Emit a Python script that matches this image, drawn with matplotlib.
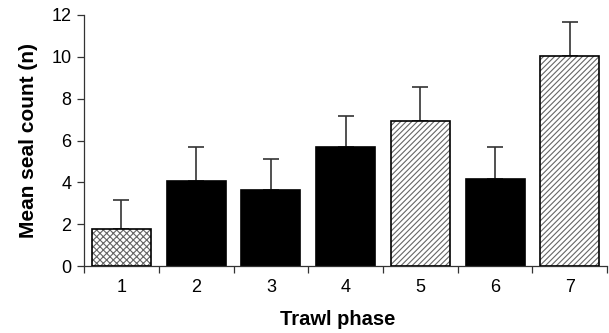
import numpy as np
import matplotlib.pyplot as plt

plt.rcParams['font.family'] = ['Liberation Sans', 'DejaVu Sans']
plt.rcParams['hatch.linewidth'] = 0.8

# trawl phases and mean seal counts
phases = ['1', '2', '3', '4', '5', '6', '7']
means = [1.77, 4.05, 3.62, 5.68, 6.93, 4.18, 10.04]
upper_err = [1.37, 1.63, 1.48, 1.48, 1.63, 1.49, 1.61]
# fill style per phase
styles = ['cross', 'solid', 'solid', 'solid', 'diag', 'solid', 'diag']

fig = plt.figure(figsize=(6.09, 3.33), dpi=100)
ax = fig.add_axes([0.138, 0.201, 0.859, 0.754])

x = np.arange(len(phases))
w = 0.79
for i in range(len(phases)):
    if styles[i] == 'solid':
        ax.bar(x[i], means[i], w, color='black', edgecolor='black', linewidth=1.2, zorder=2)
    else:
        h = 'xxxxx' if styles[i] == 'cross' else '//////'
        ax.bar(x[i], means[i], w, color='white', edgecolor='#666666', hatch=h,
               linewidth=0, zorder=2)
        ax.bar(x[i], means[i], w, fill=False, edgecolor='black', linewidth=1.2, zorder=3)

ax.errorbar(x, means, yerr=[np.zeros(len(x)), upper_err], fmt='none',
            ecolor='#333333', elinewidth=1.2, capsize=6, capthick=1.2, zorder=1)

ax.set_ylim(0, 12)
ax.set_xlim(-0.5, 6.41)
ax.set_yticks(range(0, 13, 2))
ax.set_xticks(x)
ax.set_xticklabels(phases)
ax.set_xticks(np.arange(-0.5, 6.6, 1), minor=True)
ax.tick_params(axis='x', which='major', length=0, pad=9, labelsize=13)
ax.tick_params(axis='x', which='minor', length=5, direction='out', width=0.9, color='#333333')
ax.tick_params(axis='y', length=5, direction='out', width=0.9, color='#333333', labelsize=13, pad=4)

for s in ['top', 'right']:
    ax.spines[s].set_visible(False)
ax.spines['left'].set_color('#333333')
ax.spines['bottom'].set_color('#333333')
ax.spines['left'].set_linewidth(0.9)
ax.spines['bottom'].set_linewidth(0.9)

ax.set_xlabel('Trawl phase', fontsize=14.5, fontweight='bold', labelpad=10)
ax.xaxis.set_label_coords(0.485, -0.175)
ax.set_ylabel('Mean seal count (n)', fontsize=15, fontweight='bold', labelpad=10)

fig.savefig('out.png', dpi=100)
